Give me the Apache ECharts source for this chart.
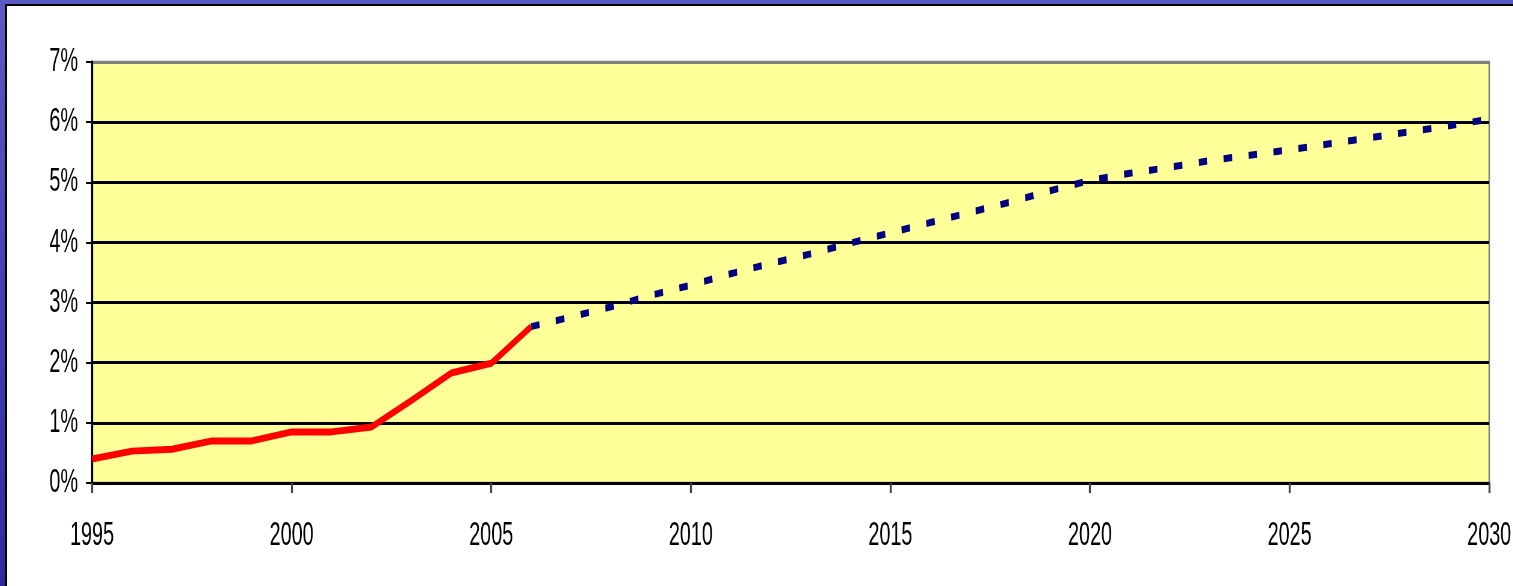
<!DOCTYPE html>
<html>
<head>
<meta charset="utf-8">
<script src="https://cdn.jsdelivr.net/npm/echarts@6/dist/echarts.min.js"></script>
<style>
  html, body { margin: 0; padding: 0; }
  body {
    width: 1513px; height: 586px; overflow: hidden; position: relative;
    background: linear-gradient(180deg, #5a5ac4 0%, #3b3bb0 60%, #2a2aa2 100%);
  }
  #panel {
    position: absolute; left: 5px; top: 4px; right: 0; bottom: 0;
    background: #ffffff;
    border-left: 2px solid #000; border-top: 2px solid #000;
  }
  /* The chart is laid out wider and squeezed horizontally, giving the tall, narrow lettering */
  #chart {
    position: absolute; left: 0; top: 0;
    width: 2521.67px; height: 586px;
    transform: scaleX(0.6); transform-origin: 0 0;
  }
</style>
</head>
<body>
<div id="panel"></div>
<div id="chart"></div>
<script>
  // Historical share (%) 1995-2006
  const histYears = [1995, 1996, 1997, 1998, 1999, 2000, 2001, 2002, 2003, 2004, 2005, 2006];
  const histValues = [0.40, 0.53, 0.56, 0.70, 0.70, 0.85, 0.85, 0.93, 1.37, 1.83, 1.99, 2.60];

  // Projected share (%) 2006-2030
  const projYears = [2006, 2007, 2008, 2009, 2010, 2011, 2012, 2013, 2014, 2015, 2016, 2017,
                     2018, 2019, 2020, 2021, 2022, 2023, 2024, 2025, 2026, 2027, 2028, 2029, 2030];
  const projValues = [2.60, 2.76, 2.93, 3.12, 3.29, 3.48, 3.65, 3.81, 3.99, 4.16, 4.33, 4.50,
                      4.67, 4.86, 5.03, 5.15, 5.25, 5.36, 5.45, 5.54, 5.64, 5.74, 5.84, 5.94, 6.05];

  const FONT = "'Liberation Sans', Arial, sans-serif";
  const SX = 0.6;               // horizontal squeeze applied to the chart element
  const px = v => v / SX;       // horizontal length in screen pixels -> layout pixels

  const pair = (xs, ys) => xs.map((x, i) => [x, ys[i]]);

  const chart = echarts.init(document.getElementById('chart'), null, { renderer: 'canvas' });
  chart.setOption({
    animation: false,
    backgroundColor: 'transparent',
    grid: {
      left: px(92), right: px(24), top: 62, bottom: 103,
      outerBoundsMode: 'none', containLabel: false,
      show: true, backgroundColor: '#FFFF99', borderColor: '#808080', borderWidth: 2.5
    },
    xAxis: {
      type: 'value', min: 1995, max: 2030, interval: 5,
      axisLine: { show: true, onZero: false, lineStyle: { color: '#000', width: 3 } },
      axisTick: { show: true, inside: false, length: 10, lineStyle: { color: '#444', width: px(2) } },
      axisLabel: {
        margin: 36, color: '#000', fontFamily: FONT, fontSize: 33,
        formatter: v => String(v)
      },
      splitLine: { show: false }
    },
    yAxis: {
      type: 'value', min: 0, max: 7, interval: 1,
      axisLine: { show: true, lineStyle: { color: '#000', width: px(2) } },
      axisTick: { show: true, inside: false, length: px(6), lineStyle: { color: '#000', width: 2 } },
      axisLabel: {
        margin: px(14), color: '#000', fontFamily: FONT, fontSize: 33,
        formatter: v => v + '%'
      },
      splitLine: {
        show: true,
        lineStyle: { color: ['#000', '#000', '#000', '#000', '#000', '#000', '#000', '#808080'], width: 3 }
      }
    },
    series: [
      {
        name: 'Historical', type: 'line', data: pair(histYears, histValues),
        showSymbol: false, symbol: 'none',
        lineStyle: { color: '#FF0000', width: 7, join: 'round' }, z: 3
      },
      {
        name: 'Projection', type: 'line', data: pair(projYears, projValues),
        showSymbol: false, symbol: 'none',
        lineStyle: { color: '#000080', width: 7, type: [px(8.5), px(16.5)], cap: 'butt' }, z: 4
      }
    ]
  });
</script>
</body>
</html>
